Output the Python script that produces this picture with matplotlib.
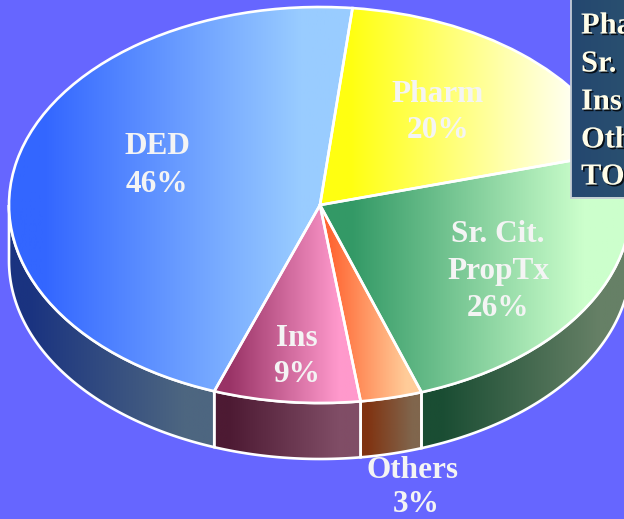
#!/usr/bin/env python3

import matplotlib

matplotlib.use("Agg")
import matplotlib.patheffects as pe
import matplotlib.pyplot as plt
import numpy as np
from matplotlib.colors import LinearSegmentedColormap
from matplotlib.patches import Polygon, Rectangle

# slice shares, going counter-clockwise
slice_names = ["DED", "Ins", "Others", "Sr. Cit.", "Pharm"]
slice_shares = [46.1, 7.6, 3.2, 24.0, 19.0]
top_left = ["#3366ff", "#993366", "#ff6633", "#339966", "#ffff11"]
top_right = ["#99ccff", "#ff99cc", "#ffcc99", "#ccffcc", "#fffff4"]
wall_left = ["#1a3380", "#4d1a33", "#803311", "#1a4d33", "#808000"]
wall_right = ["#4d6680", "#804d66", "#80664d", "#668066", "#808078"]

label_lines = ["DED", "46%", "Pharm", "20%", "Sr. Cit.", "PropTx", "26%", "Ins", "9%", "Others", "3%"]
label_x = [157, 157, 438, 438, 498, 498, 498, 297, 297, 413, 416]
label_y = [146, 184, 94, 131, 234, 271, 309, 338, 374, 471, 504]
legend_rows = ["Pha", "Sr.", "Ins", "Oth", "TO"]
legend_y = [26, 64, 102, 140, 177]

WIDTH, HEIGHT = 624, 519
CX, CY, RX, RY = 320, 205, 311, 198
DEPTH = 56 / RY
SERIF = "Liberation Serif"


def gradient_fill(ax, patch, left, right, zorder):
    stops = [(0, left), (0.1, left), (0.85, right), (1, right)]
    cmap = LinearSegmentedColormap.from_list("g", stops)
    box = patch.get_path().transformed(patch.get_patch_transform()).get_extents()
    image = ax.imshow(
        np.linspace(0, 1, 256).reshape(1, -1),
        cmap=cmap,
        extent=(box.x0, box.x1, box.y0, box.y1),
        aspect="auto",
        zorder=zorder,
    )
    image.set_clip_path(patch)


def main():
    fig = plt.figure(figsize=(WIDTH / 100, HEIGHT / 100), dpi=100, facecolor="#6666ff")
    ax = fig.add_axes([0, 0, 1, 1])
    wedges, _ = ax.pie(
        slice_shares,
        startangle=84,
        counterclock=True,
        wedgeprops={"facecolor": "none", "edgecolor": "white", "linewidth": 1.9, "zorder": 4},
    )
    xlim = ((0 - CX) / RX, (WIDTH - CX) / RX)
    ylim = ((CY - HEIGHT) / RY, CY / RY)

    for i, wedge in enumerate(wedges):
        gradient_fill(ax, wedge, top_left[i], top_right[i], 3)

        low = max(wedge.theta1 % 360 if wedge.theta1 % 360 > 90 else wedge.theta1, 180)
        high = min(wedge.theta2, 360)
        if high <= low:
            continue
        angles = np.radians(np.linspace(low, high, 120))
        upper = np.column_stack([np.cos(angles), np.sin(angles)])
        lower = upper[::-1] - [0, DEPTH]
        wall = Polygon(np.vstack([upper, lower]), closed=True, facecolor="none",
                       edgecolor="white", linewidth=1.9, zorder=2)
        ax.add_patch(wall)
        gradient_fill(ax, wall, wall_left[i], wall_right[i], 1)

    ax.set_aspect("auto")
    ax.set_xlim(xlim)
    ax.set_ylim(ylim)
    ax.axis("off")

    overlay = fig.add_axes([0, 0, 1, 1])
    overlay.set_xlim(0, WIDTH)
    overlay.set_ylim(HEIGHT, 0)
    overlay.axis("off")
    overlay.patch.set_alpha(0)

    for text, x, y in zip(label_lines, label_x, label_y):
        overlay.text(x, y, text, color="#f4f4f4", fontsize=22.5, fontweight="bold",
                     family=SERIF, ha="center", va="center")

    box = Rectangle((570.5, -3), 60, 200.5, facecolor="none", edgecolor="#c4ccd4", linewidth=1.3, zorder=6)
    overlay.add_patch(box)
    cmap = LinearSegmentedColormap.from_list("legend", ["#24476f", "#2a5070"])
    fill = overlay.imshow(np.linspace(0, 1, 64).reshape(1, -1), cmap=cmap,
                          extent=(570.5, 630, 197.5, -3), aspect="auto", zorder=5)
    fill.set_clip_path(box)
    overlay.set_xlim(0, WIDTH)
    overlay.set_ylim(HEIGHT, 0)

    for text, y in zip(legend_rows, legend_y):
        overlay.text(581, y, text, color="#fffde8", fontsize=22, fontweight="bold",
                     family=SERIF, ha="left", va="center", zorder=7,
                     path_effects=[pe.withSimplePatchShadow(offset=(1.2, -1.2), shadow_rgbFace="#000000", alpha=0.8)])

    fig.savefig("out.png", dpi=100, facecolor=fig.get_facecolor())


if __name__ == "__main__":
    main()
